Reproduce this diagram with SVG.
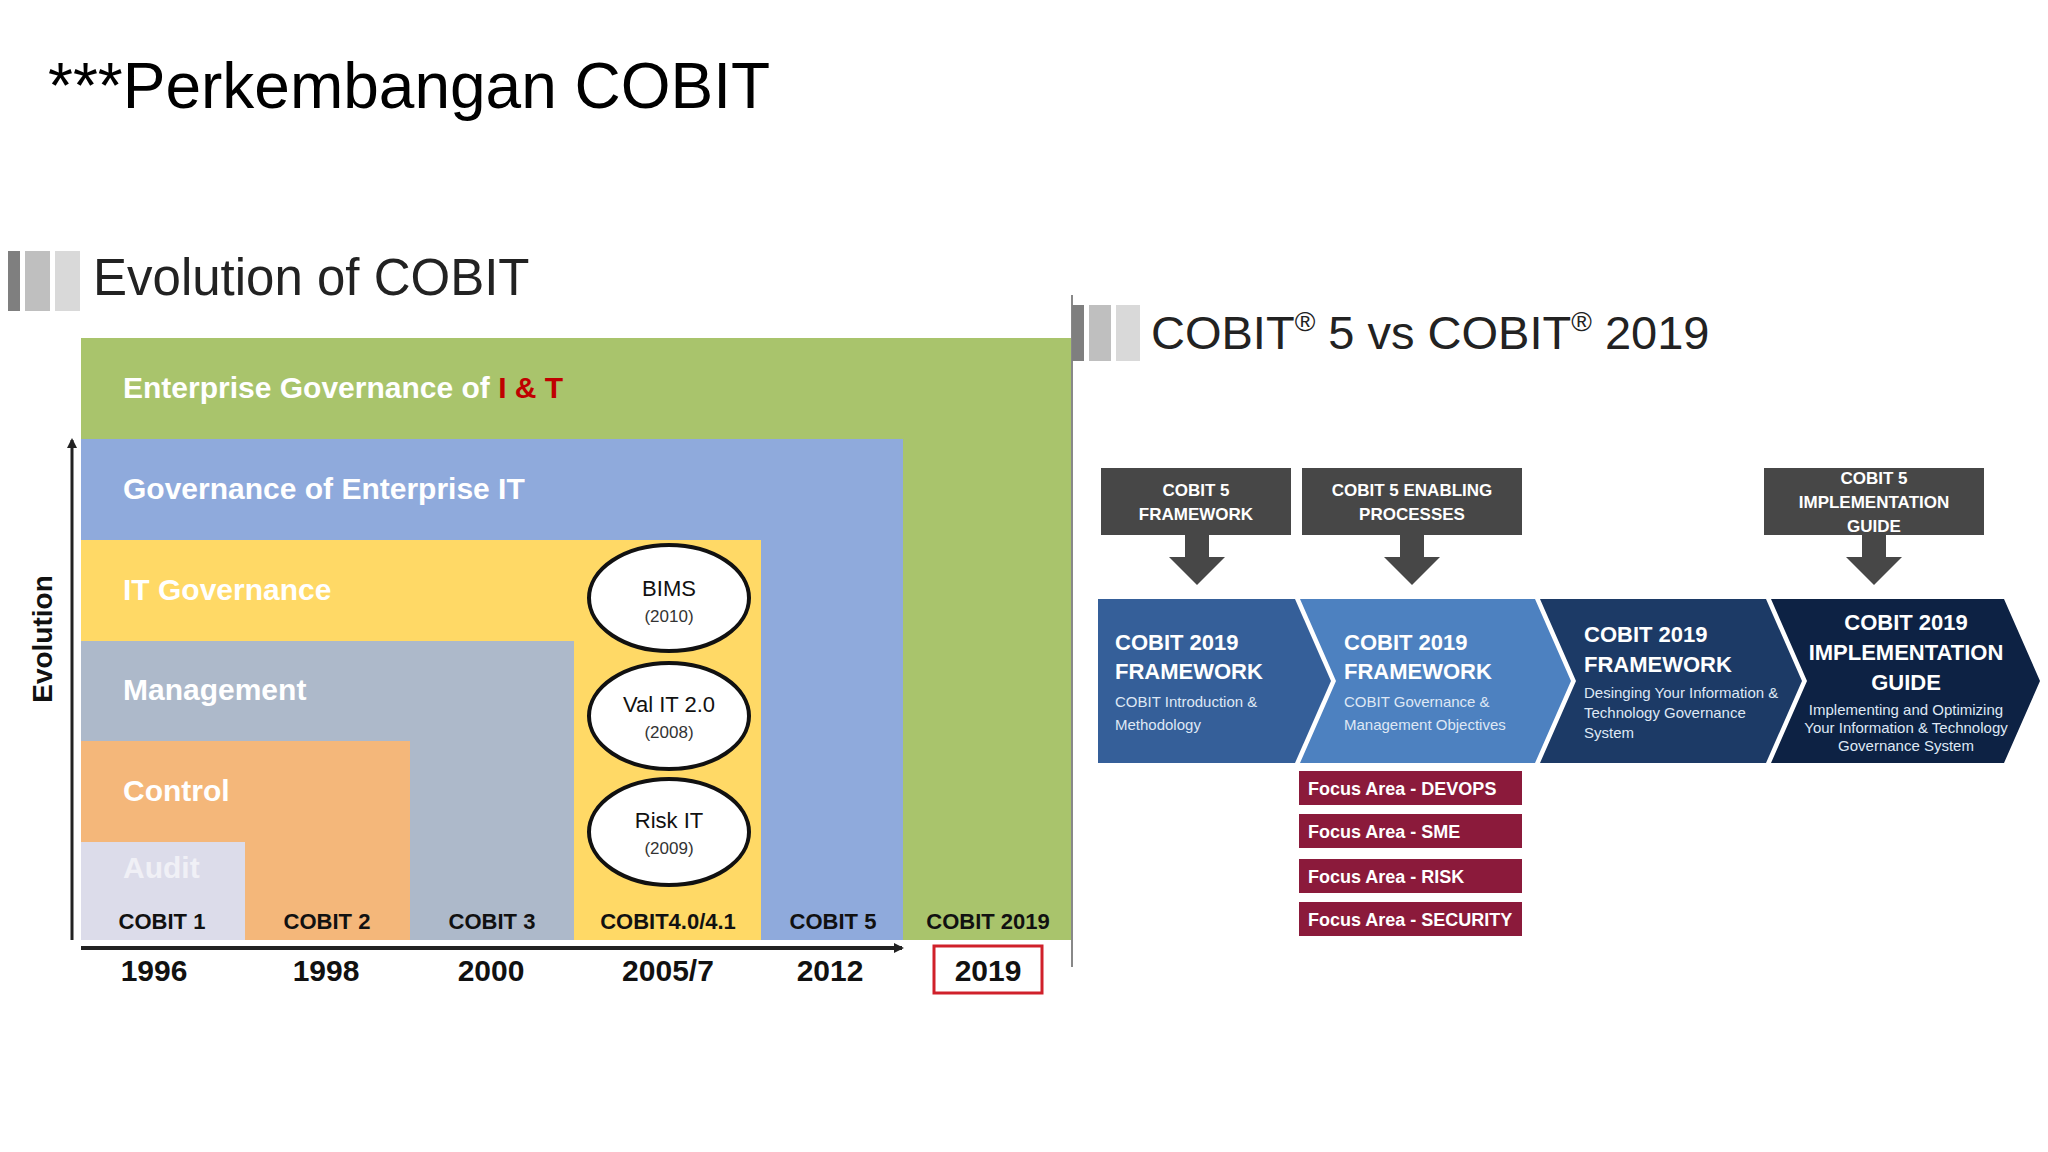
<svg xmlns="http://www.w3.org/2000/svg" width="2048" height="1152" viewBox="0 0 2048 1152">
<style>
text{font-family:"Liberation Sans",Arial,sans-serif}
.b{font-weight:bold}
.lay{fill:#fff;font-weight:bold;font-size:30px}
.cob{font-size:22px;font-weight:bold;fill:#111;text-anchor:middle}
.yr{font-size:30px;font-weight:bold;fill:#111;text-anchor:middle}
.gb{fill:#474747}
.gt{fill:#fff;font-size:17px;font-weight:bold;text-anchor:middle}
.ct{fill:#fff;font-size:22px;font-weight:bold}
.cs{fill:#dfe8f5;font-size:15px}
.fa{fill:#8b1a3b}
.ft{fill:#fff;font-size:18px;font-weight:bold}
.el{fill:#fff;stroke:#111;stroke-width:4}
.et{font-size:22px;text-anchor:middle;fill:#111}
.ey{font-size:17px;text-anchor:middle;fill:#333}
</style>
<defs>
<marker id="ah" markerWidth="10" markerHeight="10" refX="8" refY="5" orient="auto" markerUnits="userSpaceOnUse"><path d="M0,0 L10,5 L0,10 Z" fill="#222"/></marker>
</defs>
<rect width="2048" height="1152" fill="#fff"/>
<text x="48" y="108" font-size="64" fill="#000">***Perkembangan COBIT</text>

<g id="evo-heading">
<rect x="8" y="251" width="12" height="60" fill="#7f7f7f"/>
<rect x="25" y="251" width="25" height="60" fill="#bfbfbf"/>
<rect x="55" y="251" width="25" height="60" fill="#d9d9d9"/>
<text x="93" y="295" font-size="51" fill="#222">Evolution of COBIT</text>
</g>

<g id="layers">
<rect x="81" y="338" width="990" height="602" fill="#a9c46c"/>
<rect x="81" y="439" width="822" height="501" fill="#8faadc"/>
<rect x="81" y="540" width="680" height="400" fill="#ffd966"/>
<rect x="81" y="641" width="493" height="299" fill="#adb9ca"/>
<rect x="81" y="741" width="329" height="199" fill="#f4b77a"/>
<rect x="81" y="842" width="164" height="98" fill="#dcdcea"/>
<text x="123" y="398" class="lay">Enterprise Governance of <tspan fill="#c00000">I &amp; T</tspan></text>
<text x="123" y="499" class="lay">Governance of Enterprise IT</text>
<text x="123" y="600" class="lay">IT Governance</text>
<text x="123" y="700" class="lay">Management</text>
<text x="123" y="801" class="lay">Control</text>
<text x="123" y="878" class="lay" style="fill:#f0f0f6">Audit</text>
</g>

<g id="circles">
<ellipse class="el" cx="669" cy="598" rx="80" ry="53"/>
<text x="669" y="596" class="et">BIMS</text><text x="669" y="622" class="ey">(2010)</text>
<ellipse class="el" cx="669" cy="716" rx="80" ry="53"/>
<text x="669" y="712" class="et">Val IT 2.0</text><text x="669" y="738" class="ey">(2008)</text>
<ellipse class="el" cx="669" cy="832" rx="80" ry="53"/>
<text x="669" y="828" class="et">Risk IT</text><text x="669" y="854" class="ey">(2009)</text>
</g>

<g id="labels">
<text x="162" y="929" class="cob">COBIT 1</text>
<text x="327" y="929" class="cob">COBIT 2</text>
<text x="492" y="929" class="cob">COBIT 3</text>
<text x="668" y="929" class="cob">COBIT4.0/4.1</text>
<text x="833" y="929" class="cob">COBIT 5</text>
<text x="988" y="929" class="cob">COBIT 2019</text>
<text x="154" y="981" class="yr">1996</text>
<text x="326" y="981" class="yr">1998</text>
<text x="491" y="981" class="yr">2000</text>
<text x="668" y="981" class="yr">2005/7</text>
<text x="830" y="981" class="yr">2012</text>
<text x="988" y="981" class="yr">2019</text>
<rect x="934" y="946" width="108" height="47" fill="none" stroke="#d0202a" stroke-width="3"/>
<text transform="translate(52,639) rotate(-90)" font-family="DejaVu Sans" font-weight="bold" font-size="28" text-anchor="middle" fill="#111">Evolution</text>
</g>

<g id="connectors">
<line x1="81" y1="948" x2="902" y2="948" stroke="#222" stroke-width="4" marker-end="url(#ah)"/>
<line x1="72" y1="940" x2="72" y2="440" stroke="#222" stroke-width="3" marker-end="url(#ah)"/>
<line x1="1072" y1="295" x2="1072" y2="967" stroke="#888" stroke-width="2"/>
<g fill="#474747">
<path d="M1185,535 H1209 V557 H1225 L1197,585 L1169,557 H1185 Z"/>
<path d="M1400,535 H1424 V557 H1440 L1412,585 L1384,557 H1400 Z"/>
<path d="M1862,535 H1886 V557 H1902 L1874,585 L1846,557 H1862 Z"/>
</g>
</g>

<g id="cmp-heading">
<rect x="1072" y="305" width="12" height="56" fill="#7f7f7f"/>
<rect x="1089" y="305" width="22" height="56" fill="#bfbfbf"/>
<rect x="1116" y="305" width="24" height="56" fill="#d9d9d9"/>
<text x="1151" y="349" font-size="47" fill="#222">COBIT<tspan font-size="28" dy="-18">®</tspan><tspan dy="18"> 5 vs COBIT</tspan><tspan font-size="28" dy="-18">®</tspan><tspan dy="18"> 2019</tspan></text>
</g>

<g id="cobit5-boxes">
<rect class="gb" x="1101" y="468" width="190" height="67"/>
<text class="gt" x="1196" y="496">COBIT 5</text><text class="gt" x="1196" y="520">FRAMEWORK</text>
<rect class="gb" x="1302" y="468" width="220" height="67"/>
<text class="gt" x="1412" y="496">COBIT 5 ENABLING</text><text class="gt" x="1412" y="520">PROCESSES</text>
<rect class="gb" x="1764" y="468" width="220" height="67"/>
<text class="gt" x="1874" y="484">COBIT 5</text><text class="gt" x="1874" y="508">IMPLEMENTATION</text><text class="gt" x="1874" y="532">GUIDE</text>
</g>

<g id="chevrons">
<path d="M1098,599 L1295,599 L1331,681 L1295,763 L1098,763 Z" fill="#355f99"/>
<path d="M1300,599 L1535,599 L1571,681 L1535,763 L1300,763 L1336,681 Z" fill="#4d81c0"/>
<path d="M1540,599 L1766,599 L1802,681 L1766,763 L1540,763 L1576,681 Z" fill="#1c3a66"/>
<path d="M1771,599 L2004,599 L2040,681 L2004,763 L1771,763 L1807,681 Z" fill="#0d2244"/>
<text class="ct" x="1115" y="650">COBIT 2019</text><text class="ct" x="1115" y="679">FRAMEWORK</text>
<text class="cs" x="1115" y="707">COBIT Introduction &amp;</text><text class="cs" x="1115" y="730">Methodology</text>
<text class="ct" x="1344" y="650">COBIT 2019</text><text class="ct" x="1344" y="679">FRAMEWORK</text>
<text class="cs" x="1344" y="707">COBIT Governance &amp;</text><text class="cs" x="1344" y="730">Management Objectives</text>
<text class="ct" x="1584" y="642">COBIT 2019</text><text class="ct" x="1584" y="672">FRAMEWORK</text>
<text class="cs" x="1584" y="698" font-size="14">Desinging Your Information &amp;</text><text class="cs" x="1584" y="718" font-size="14">Technology Governance</text><text class="cs" x="1584" y="738" font-size="14">System</text>
<g text-anchor="middle">
<text class="ct" x="1906" y="630">COBIT 2019</text><text class="ct" x="1906" y="660">IMPLEMENTATION</text><text class="ct" x="1906" y="690">GUIDE</text>
<text class="cs" x="1906" y="715" font-size="13">Implementing and Optimizing</text><text class="cs" x="1906" y="733" font-size="13">Your Information &amp; Technology</text><text class="cs" x="1906" y="751" font-size="13">Governance System</text>
</g>
</g>

<g id="focus-areas">
<rect class="fa" x="1299" y="771" width="223" height="34"/><text class="ft" x="1308" y="795">Focus Area - DEVOPS</text>
<rect class="fa" x="1299" y="814" width="223" height="34"/><text class="ft" x="1308" y="838">Focus Area - SME</text>
<rect class="fa" x="1299" y="859" width="223" height="34"/><text class="ft" x="1308" y="883">Focus Area - RISK</text>
<rect class="fa" x="1299" y="902" width="223" height="34"/><text class="ft" x="1308" y="926">Focus Area - SECURITY</text>
</g>
</svg>
